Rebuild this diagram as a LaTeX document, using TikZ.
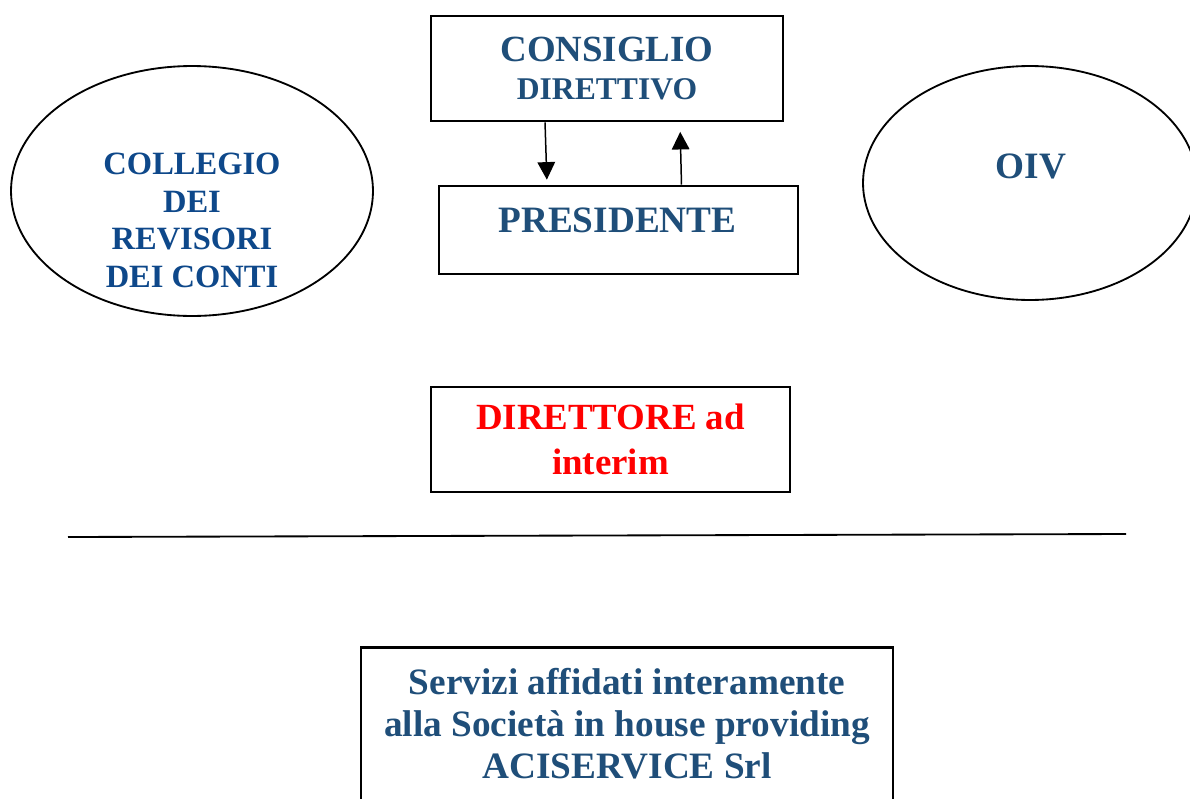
\documentclass[tikz,border=0pt]{standalone}
\usepackage{fontspec}
\setmainfont{Liberation Serif}
\usetikzlibrary{shapes.geometric,arrows.meta}
\definecolor{orgblue}{RGB}{31,78,121}
\definecolor{revblue}{RGB}{14,72,138}
\definecolor{dirred}{RGB}{255,0,0}
\begin{document}
\begin{tikzpicture}
		[x=0.02cm,y=-0.02cm,
		box/.style={rectangle,draw,line width=1.6pt,inner sep=0pt},
		oval/.style={ellipse,draw,line width=1.05pt,inner sep=0pt},
		txt/.style={align=center,text=orgblue,font=\bfseries\fontsize{21.2}{23.8}\selectfont,inner sep=0pt},
		>={Triangle[length=10pt,width=10pt]}]
		\useasboundingbox (0,0) rectangle (1190,798);
		% organi
		\node[box,name=consiglio,minimum width=7.04cm,minimum height=2.1cm,txt,font=\bfseries\fontsize{21}{21.5}\selectfont]at(607,68.5){CONSIGLIO\\\fontsize{18}{21.5}\selectfont DIRETTIVO};
		\node[box,name=pres,minimum width=7.18cm,minimum height=1.76cm]at(618.5,230){};
		\node[txt,name=pres text,anchor=base]at(617.5,232){PRESIDENTE};
		\node[oval,name=collegio,minimum width=7.24cm,minimum height=5cm]at(192,191){};
		\node[txt,name=collegio text,text=revblue,font=\bfseries\fontsize{18.5}{21.3}\selectfont]at(192,220.5){COLLEGIO\\DEI\\REVISORI\\DEI CONTI};
		\node[oval,name=oiv,minimum width=6.68cm,minimum height=4.68cm]at(1030,183){};
		\node[txt,name=oiv text,anchor=base]at(1031,178){OIV};
		\node[box,name=direttore,minimum width=7.18cm,minimum height=2.1cm,txt,text=dirred,font=\bfseries\fontsize{21}{25.5}\selectfont]at(610.5,439.5){DIRETTORE ad\\interim};
		% linea di separazione
		\coordinate (sep l) at (68,537);
		\coordinate (sep r) at (1126,534);
		\draw[line width=1.05pt] (sep l) -- (sep r);
		% servizi
		\node[box,name=servizi,minimum width=10.64cm,minimum height=4cm,anchor=north]at(627,646){};
		\node[txt,name=servizi text]at(627,723.5){Servizi affidati interamente\\alla Società in house providing\\ACISERVICE Srl};
		% frecce
		\draw[->,line width=0.85pt,shorten >=2.8pt] ([xshift=-1.24cm]consiglio.south) -- ([xshift=-1.43cm]pres.north);
		\draw[->,line width=0.85pt,shorten >=5.4pt] ([xshift=1.26cm]pres.north) -- ([xshift=1.46cm]consiglio.south);
	\end{tikzpicture}
\end{document}
